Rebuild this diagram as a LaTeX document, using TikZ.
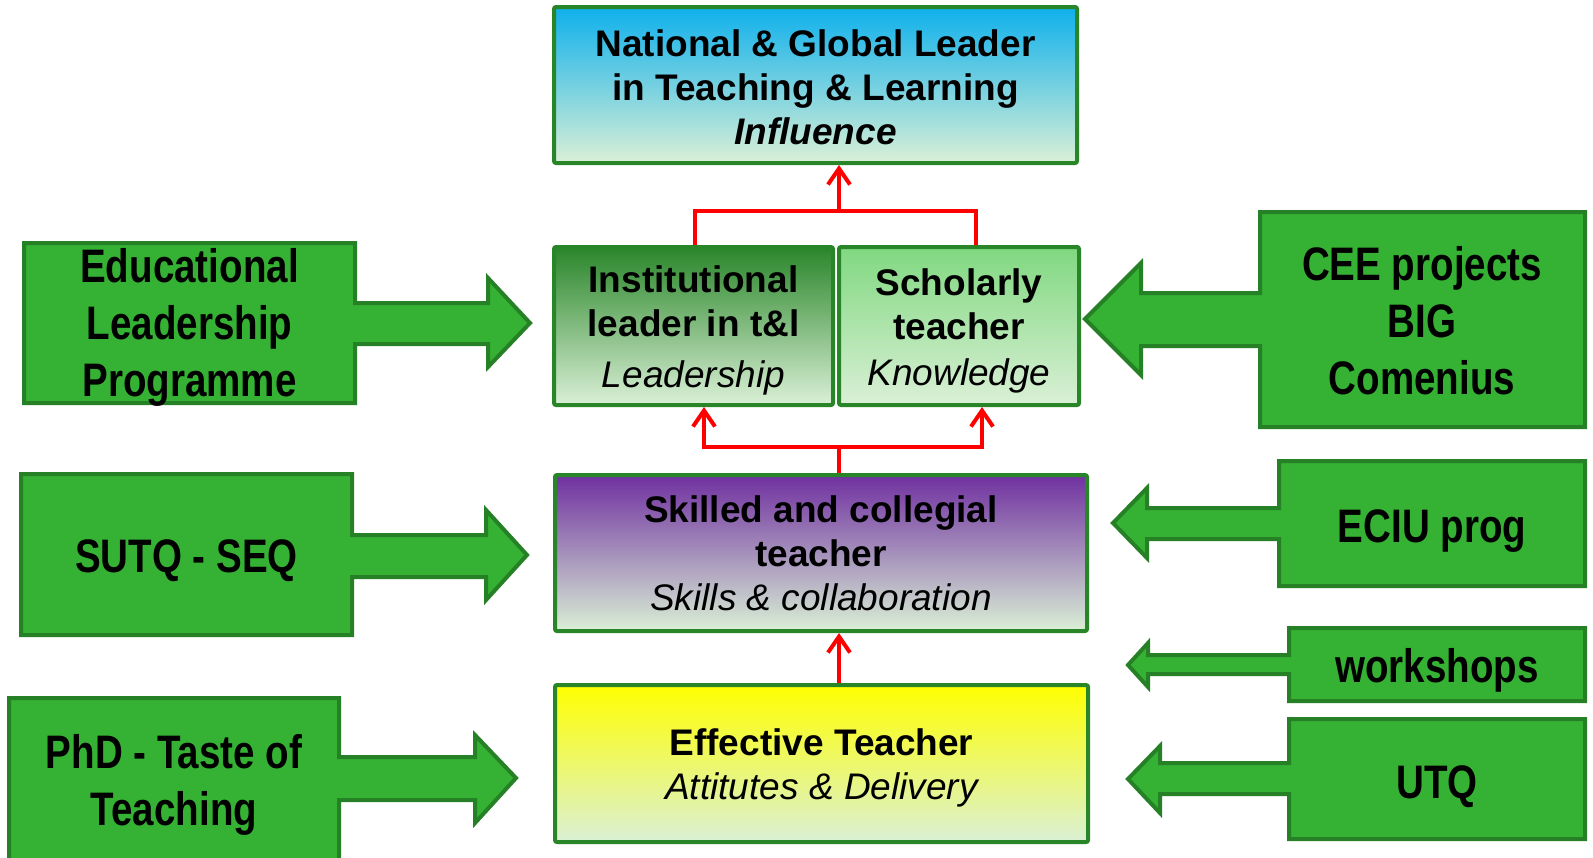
\documentclass[tikz,border=0pt]{standalone}
\usepackage{fontspec}
\setmainfont{Liberation Sans}
\newfontfamily\narrowfont[FakeStretch=0.82]{Liberation Sans}
\usetikzlibrary{arrows.meta,calc}
\definecolor{boxborder}{RGB}{40,134,40}
\definecolor{callfill}{RGB}{53,178,52}
\definecolor{callborder}{RGB}{38,128,38}
\definecolor{cyantop}{RGB}{14,176,236}
\definecolor{cyanmid}{RGB}{120,206,206}
\definecolor{palebot}{RGB}{218,240,214}
\definecolor{darkgtop}{RGB}{42,134,42}
\definecolor{lightgtop}{RGB}{128,216,128}
\definecolor{purpletop}{RGB}{112,48,160}
\definecolor{yellowtop}{RGB}{255,255,0}
\begin{document}
\begin{tikzpicture}[x=1pt,y=-1pt,
  mainbox/.style={draw=boxborder, line width=4pt, rounded corners=2pt, inner sep=0pt, align=center,
    font=\fontsize{37}{44}\selectfont\bfseries},
  maintext/.style={align=center, inner sep=0pt, font=\fontsize{37}{44}\selectfont\bfseries},
  callout/.style={fill=callfill, draw=callborder, line width=4pt, line join=miter},
  calltext/.style={align=center, inner sep=0pt, font=\narrowfont\fontsize{47}{57}\selectfont\bfseries},
  redline/.style={draw=red, line width=4pt},
  redarrow/.style={redline, -{Straight Barb[length=16pt,width=22pt]}}]
\useasboundingbox (0,0) rectangle (1593,857);

% main boxes
\node[mainbox, top color=cyantop, middle color=cyanmid, bottom color=palebot,
  minimum width=523pt, minimum height=156pt] (top) at (815.5,85) {};
\node[maintext] (toptext) at (815.5,87)
  {National \& Global Leader\\in Teaching \& Learning\\\textit{Influence}};
\node[mainbox, top color=darkgtop, bottom color=palebot,
  minimum width=279pt, minimum height=158pt] (inst) at (693.5,326) {};
\node[maintext] (insttext) at (693.5,330.5)
  {Institutional\\leader in t\&l\\[7pt]{\mdseries\itshape Leadership}};
\node[mainbox, top color=lightgtop, bottom color=palebot,
  minimum width=240pt, minimum height=158pt] (schol) at (959,326) {};
\node[maintext] (scholtext) at (959,331)
  {Scholarly\\teacher\\[2pt]{\mdseries\itshape Knowledge}};
\node[mainbox, top color=purpletop, bottom color=palebot,
  minimum width=532pt, minimum height=156pt] (skill) at (821,553) {};
\node[maintext] (skilltext) at (821,553)
  {Skilled and collegial\\teacher\\{\mdseries\itshape Skills \& collaboration}};
\node[mainbox, top color=yellowtop, bottom color=palebot,
  minimum width=533pt, minimum height=157pt] (eff) at (821.5,763.5) {};
\node[maintext] (efftext) at (821.5,767.5)
  {Effective Teacher\\{\mdseries\itshape Attitutes \& Delivery}};

% red connectors
\coordinate (j1) at (839,447);
\coordinate (j2) at (839,211);
\draw[redarrow] (j1 |- eff.north) -- (j1 |- skill.south);
\draw[redline] (j1 |- skill.north) -- (j1);
\draw[redarrow] (j1) -| ([xshift=10.5pt]inst.south);
\draw[redarrow] (j1) -| ([xshift=23pt]schol.south);
\draw[redline] ([xshift=1.5pt]inst.north) |- (j2) -| ([xshift=17pt]schol.north);
\draw[redarrow] (j2) -- (j2 |- top.south);

% left callouts
\filldraw[callout] (24,243) -- (355,243) -- (355,303) -- (488,303) -- (488,278) -- (530,323)
  -- (488,367) -- (488,344) -- (355,344) -- (355,403) -- (24,403) -- cycle;
\node[calltext] (elp) at (189.5,327) {Educational\\Leadership\\Programme};

\filldraw[callout] (21,474) -- (352,474) -- (352,535) -- (486,535) -- (486,510) -- (527,555)
  -- (486,600) -- (486,577) -- (352,577) -- (352,635) -- (21,635) -- cycle;
\node[calltext, anchor=base] (sutq) at (186.5,572) {SUTQ - SEQ};

\filldraw[callout] (9,698) -- (339,698) -- (339,757) -- (475,757) -- (475,735) -- (516,778)
  -- (475,823) -- (475,800) -- (339,800) -- (339,875) -- (9,875) -- cycle;
\node[calltext] (phd) at (174,785) {PhD - Taste of\\Teaching};

% right callouts
\filldraw[callout] (1585,212) -- (1260,212) -- (1260,293) -- (1141,293) -- (1141,263) -- (1085,319)
  -- (1141,375) -- (1141,346) -- (1260,346) -- (1260,427) -- (1585,427) -- cycle;
\node[calltext] (cee) at (1422,321) {CEE projects\\BIG\\Comenius};

\filldraw[callout] (1585,461) -- (1279,461) -- (1279,508) -- (1147,508) -- (1147,488) -- (1113,523)
  -- (1147,558) -- (1147,539) -- (1279,539) -- (1279,586) -- (1585,586) -- cycle;
\node[calltext, anchor=base] (eciu) at (1432,542) {ECIU prog};

\filldraw[callout] (1585,628) -- (1289,628) -- (1289,655) -- (1148,655) -- (1148,643) -- (1128,665)
  -- (1148,687) -- (1148,674) -- (1289,674) -- (1289,701) -- (1585,701) -- cycle;
\node[calltext, anchor=base] (work) at (1437,682) {workshops};

\filldraw[callout] (1585,719) -- (1289,719) -- (1289,763) -- (1160,763) -- (1160,746) -- (1128,779)
  -- (1160,813) -- (1160,794) -- (1289,794) -- (1289,839) -- (1585,839) -- cycle;
\node[calltext, anchor=base] (utq) at (1437,798) {UTQ};
\end{tikzpicture}
\end{document}
